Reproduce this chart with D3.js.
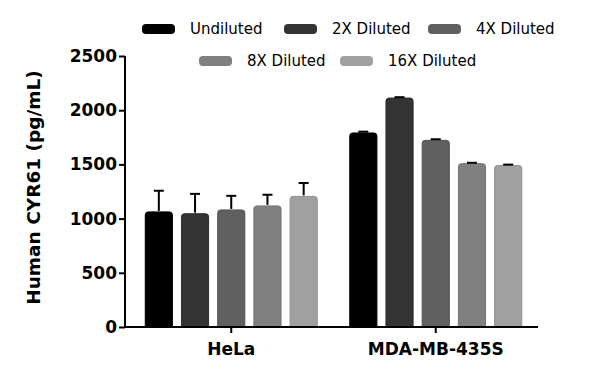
<!DOCTYPE html>
<html>
<head>
<meta charset="utf-8">
<script src="https://cdn.jsdelivr.net/npm/d3@7"></script>
<style>
  body { margin: 0; background: #fff; }
  svg text { font-family: "DejaVu Sans", sans-serif; fill: #000; }
</style>
</head>
<body>
<div id="chart"></div>
<script>
var canvas_width = 600,
    canvas_height = 385;

// data
var groups = ["HeLa", "MDA-MB-435S"];
var series = ["Undiluted", "2X Diluted", "4X Diluted", "8X Diluted", "16X Diluted"];
var colors = ["#000000", "#333333", "#606060", "#808080", "#a0a0a0"];
var helaMeans = [1062, 1045, 1080, 1117, 1205];
var helaErrors = [195, 183, 130, 103, 123];
var mdaMeans = [1790, 2112, 1722, 1507, 1490];
var mdaErrors = [12, 8, 10, 8, 8];
var yTicks = [0, 500, 1000, 1500, 2000, 2500];

var margin = { top: 56, right: 62, bottom: 58, left: 125 };
var width = canvas_width - margin.left - margin.right;
var height = canvas_height - margin.top - margin.bottom;

var svg = d3.select("#chart")
    .append("svg")
    .attr("width", canvas_width)
    .attr("height", canvas_height);

var g = svg.append("g")
    .attr("transform", "translate(" + margin.left + "," + margin.top + ")");

var xScale = d3.scaleBand()
    .domain(groups)
    .range([4, width])
    .paddingInner(0)
    .paddingOuter(0);

var groupSpan = 172;
var xInner = d3.scaleBand()
    .domain(series)
    .range([0, groupSpan])
    .paddingInner(0.25);

var yScale = d3.scaleLinear()
    .domain([0, 2500])
    .range([height, 0]);

var colorScale = d3.scaleOrdinal().domain(series).range(colors);

var rows = [];
groups.forEach(function (grp, gi) {
    var means = gi === 0 ? helaMeans : mdaMeans;
    var errs = gi === 0 ? helaErrors : mdaErrors;
    series.forEach(function (s, si) {
        rows.push({ group: grp, key: s, value: means[si], err: errs[si] });
    });
});

function barX(d) {
    return xScale(d.group) + xScale.bandwidth() / 2 - groupSpan / 2 + xInner(d.key);
}
function barMid(d) {
    return barX(d) + xInner.bandwidth() / 2;
}

// bars
g.selectAll(".bar")
    .data(rows)
    .enter()
    .append("path")
    .attr("fill", d => colorScale(d.key))
    .attr("stroke", d => d3.color(colorScale(d.key)).darker(0.3))
    .attr("stroke-width", 1)
    .attr("d", function (d) {
        var x = barX(d), w = xInner.bandwidth();
        var y = yScale(d.value), b = yScale(0), r = 3;
        return "M" + x + "," + b + "V" + (y + r) + "Q" + x + "," + y + " " + (x + r) + "," + y +
            "H" + (x + w - r) + "Q" + (x + w) + "," + y + " " + (x + w) + "," + (y + r) + "V" + b + "Z";
    });

// error bars (upper half only)
var eb = g.selectAll(".err")
    .data(rows)
    .enter()
    .append("g");

eb.append("line")
    .attr("x1", barMid)
    .attr("x2", barMid)
    .attr("y1", d => yScale(d.value) - 1)
    .attr("y2", d => yScale(d.value + d.err))
    .attr("stroke", "#000")
    .attr("stroke-width", 2);

eb.append("line")
    .attr("x1", d => barMid(d) - 5)
    .attr("x2", d => barMid(d) + 5)
    .attr("y1", d => yScale(d.value + d.err))
    .attr("y2", d => yScale(d.value + d.err))
    .attr("stroke", "#000")
    .attr("stroke-width", 2);

// Axes
var yAxis = g.append("g")
    .call(d3.axisLeft(yScale).tickValues(yTicks).tickSize(6).tickSizeOuter(0).tickFormat(d3.format("d")));
yAxis.select(".domain").attr("stroke", "#000").attr("stroke-width", 2)
    .attr("d", "M0," + (height + 1) + "V0");
yAxis.selectAll(".tick line").attr("stroke-width", 2);
yAxis.selectAll(".tick text")
    .attr("x", -8)
    .style("font-size", "17px")
    .style("font-weight", "bold");

var xAxis = g.append("g")
    .attr("transform", "translate(0," + height + ")")
    .call(d3.axisBottom(xScale).tickSize(6).tickSizeOuter(0));
xAxis.select(".domain").attr("stroke", "#000").attr("stroke-width", 2)
    .attr("d", "M-1,0H" + width);
xAxis.selectAll(".tick line").attr("stroke-width", 2);
xAxis.selectAll(".tick text")
    .attr("y", 16)
    .style("font-size", "17px")
    .style("font-weight", "bold");

// Axis title
svg.append("text")
    .attr("transform", "translate(40," + (margin.top + height / 2 - 4) + ") rotate(-90)")
    .attr("text-anchor", "middle")
    .style("font-size", "18.5px")
    .style("font-weight", "bold")
    .text("Human CYR61 (pg/mL)");

// Legend
var legendPos = [
    { x: 142, y: 29 }, { x: 284, y: 29 }, { x: 428, y: 29 },
    { x: 199, y: 61 }, { x: 340, y: 61 }
];
var legend = svg.selectAll(".legend")
    .data(series)
    .enter()
    .append("g")
    .attr("transform", (d, i) => "translate(" + legendPos[i].x + "," + legendPos[i].y + ")");

legend.append("rect")
    .attr("x", 0)
    .attr("y", -5)
    .attr("width", 33)
    .attr("height", 10)
    .attr("rx", 4)
    .attr("fill", d => colorScale(d));

legend.append("text")
    .attr("x", 48)
    .attr("y", 0)
    .attr("dy", "0.35em")
    .style("font-size", "15px")
    .text(d => d);
</script>
</body>
</html>
